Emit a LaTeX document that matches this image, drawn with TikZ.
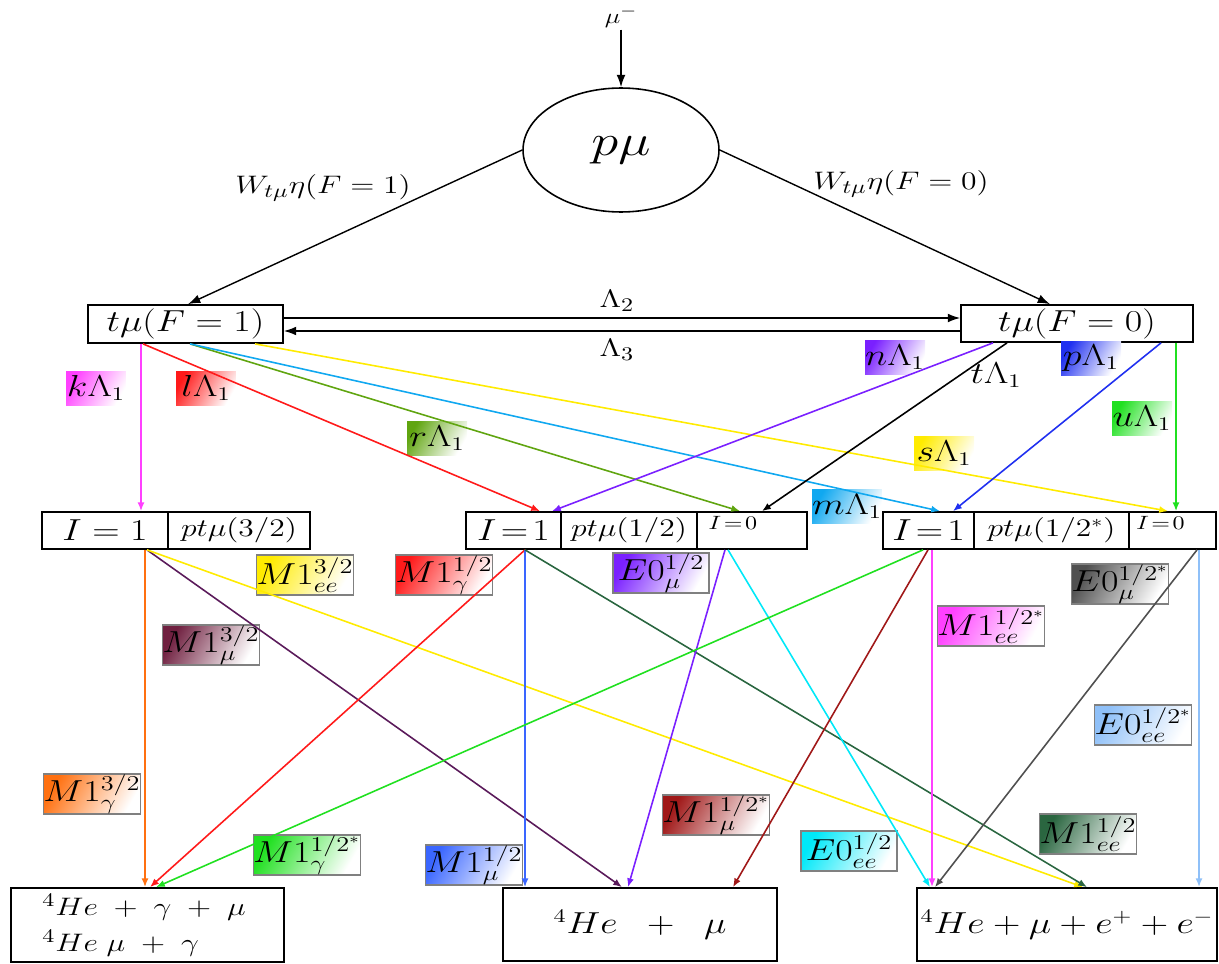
\documentclass[tikz,border=0pt]{standalone}
\usepackage{graphicx}
\usetikzlibrary{arrows.meta,shapes.geometric,calc}
\definecolor{magC}{RGB}{255,64,255}
\definecolor{redC}{RGB}{255,26,26}
\definecolor{oliveC}{RGB}{96,165,16}
\definecolor{skyC}{RGB}{16,168,240}
\definecolor{yelC}{RGB}{255,235,0}
\definecolor{violC}{RGB}{122,32,255}
\definecolor{blueC}{RGB}{32,48,240}
\definecolor{greenC}{RGB}{32,224,32}
\definecolor{orangeC}{RGB}{255,112,16}
\definecolor{plumC}{RGB}{90,26,90}
\definecolor{maroonC}{RGB}{112,32,64}
\definecolor{dgreenC}{RGB}{42,102,64}
\definecolor{dredC}{RGB}{160,24,24}
\definecolor{cyanC}{RGB}{0,232,248}
\definecolor{grayC}{RGB}{80,80,80}
\definecolor{lblueC}{RGB}{143,192,248}
\definecolor{mblueC}{RGB}{58,102,255}
\newcommand{\wt}[1]{\scalebox{1.25}[1]{#1}}
\newcommand{\fs}[1]{\fontsize{#1}{#1}\selectfont}
\begin{document}
\begin{tikzpicture}[x=0.02cm,y=-0.02cm,
  box/.style={draw,line width=1pt,inner sep=0pt},
  arr/.style={line width=0.9pt,-{Latex[length=5pt,width=4pt]}},
  barr/.style={line width=0.8pt,-{Latex[length=7pt,width=5pt]}},
  lam/.style={inner sep=0pt,minimum width=1.2cm,minimum height=0.68cm,top color=#1,bottom color=white,shading angle=60,font=\fs{16}},
  mlab/.style={draw=gray,line width=0.7pt,top color=#1,bottom color=white,shading angle=60,
    minimum width=1.92cm,minimum height=0.8cm,inner sep=0pt,font=\fs{16.5}}]
\useasboundingbox (0,0) rectangle (1219,963);

% top
\node[font=\fs{13},inner sep=1pt] (mu) at (621,17) {\wt{$\mu^-$}};
\node[ellipse,draw,line width=0.9pt,minimum width=3.92cm,minimum height=2.48cm,inner sep=0pt] (pmu) at (621,150) {\fs{27}\wt{$p\mu$}};
\draw[barr] (mu) -- (pmu);

\node[box,minimum width=3.9cm,minimum height=0.76cm,font=\fs{16}] (t1) at (185.5,324) {\wt{$t\mu(F=1)$}};
\node[box,minimum width=4.64cm,minimum height=0.74cm,font=\fs{16}] (t0) at (1077,323.5) {\wt{$t\mu(F=0)$}};

\node[font=\fs{15.5}] (w1) at (323,188) {\wt{$W_{t\mu}\eta(F=1)$}};
\node[font=\fs{15.5}] (w0) at (901,184) {\wt{$W_{t\mu}\eta(F=0)$}};
\draw[barr] (pmu.west) -- (t1.north -| 188,0);
\draw[barr] (pmu.east) -- (t0.north -| 1050,0);

\draw[barr] (t1.east |- 0,318) -- (t0.west |- 0,318);
\draw[barr] (t0.west |- 0,331) -- (t1.east |- 0,331);
\node[font=\fs{15}] (l2) at (617,301) {\wt{$\Lambda_2$}};
\node[font=\fs{15}] (l3) at (617,350) {\wt{$\Lambda_3$}};

% middle boxes
\node[box,minimum width=2.52cm,minimum height=0.74cm,font=\fs{18}] (LI1) at (105,530.5) {\wt{$I=1$}};
\node[box,minimum width=2.84cm,minimum height=0.74cm,font=\fs{14.5}] (Lp) at (239,530.5) {\wt{$pt\mu(3/2)$}};
\node[box,minimum width=1.9cm,minimum height=0.74cm,font=\fs{18}] (MI1) at (513.5,530.5) {\wt{$I\!=\!1$}};
\node[box,minimum width=2.72cm,minimum height=0.74cm,font=\fs{14}] (Mp) at (629,530.5) {\wt{$pt\mu(1/2)$}};
\node[box,minimum width=2.2cm,minimum height=0.74cm] (MI0) at (752,530.5) {};
\node[anchor=north,font=\fs{10.5},inner sep=1pt] (MI0t) at ($(MI0.north)+(-19,3)$) {\wt{$I\!=\!0$}};
\node[box,minimum width=1.82cm,minimum height=0.74cm,font=\fs{18}] (RI1) at (928.5,530.5) {\wt{$I\!=\!1$}};
\node[box,minimum width=3.1cm,minimum height=0.74cm,font=\fs{14}] (Rp) at (1051.5,530.5) {\wt{$pt\mu(1/2^*)$}};
\node[box,minimum width=1.74cm,minimum height=0.74cm] (RI0) at (1172.5,530.5) {};
\node[anchor=north,font=\fs{10.5},inner sep=1pt] (RI0t) at ($(RI0.north)+(-12,3)$) {\wt{$I\!=\!0$}};

% bottom boxes
\node[box,minimum width=5.46cm,minimum height=1.48cm] (BL) at (147.5,925) {};
\node[anchor=west,font=\fs{15.5},align=left,inner sep=0pt] (BLt) at (42,925) {\wt{$^4He\;+\;\gamma\;+\;\mu$}\\[5pt]\wt{$^4He\;\mu\;+\;\gamma$}};
\node[box,minimum width=5.48cm,minimum height=1.46cm,font=\fs{16}] (BM) at (640,924.5) {\wt{$^4He\;\;+\;\;\mu$}};
\node[box,minimum width=6.0cm,minimum height=1.46cm,font=\fs{16}] (BR) at (1067,924.5) {\wt{$^4He+\mu+e^+ +e^-$}};

% Lambda labels
\node[lam=magC] (kl) at (96,388) {\wt{$k\Lambda_1$}};
\node[lam=redC] (ll) at (206,388) {\wt{$l\Lambda_1$}};
\node[lam=oliveC] (rl) at (437,438) {\wt{$r\Lambda_1$}};
\node[lam=skyC] (ml) at (847,506) {\wt{$m\Lambda_1$}};
\node[lam=yelC] (sl) at (944,453) {\wt{$s\Lambda_1$}};
\node[lam=violC] (nl) at (895,357) {\wt{$n\Lambda_1$}};
\node[font=\fs{16}] (tl) at (996,375) {\wt{$t\Lambda_1$}};
\node[lam=blueC] (pl) at (1091,358) {\wt{$p\Lambda_1$}};
\node[lam=greenC] (ul) at (1142,418) {\wt{$u\Lambda_1$}};

% transition labels
\node[mlab=yelC] (a1) at (305,575) {\wt{$M1^{3/2}_{ee}$}};
\node[mlab=maroonC] (a2) at (211,645) {\wt{$M1^{3/2}_{\mu}$}};
\node[mlab=redC] (a3) at (444,575) {\wt{$M1^{1/2}_{\gamma}$}};
\node[mlab=violC] (a4) at (661,573) {\wt{$E0^{1/2}_{\mu}$}};
\node[mlab=grayC] (a5) at (1120,584) {\wt{$E0^{1/2^*}_{\mu}$}};
\node[mlab=magC] (a6) at (991,626) {\wt{$M1^{1/2^*}_{ee}$}};
\node[mlab=lblueC] (a7) at (1143,725) {\wt{$E0^{1/2^*}_{ee}$}};
\node[mlab=orangeC] (a8) at (92,794) {\wt{$M1^{3/2}_{\gamma}$}};
\node[mlab=greenC] (a9) at (307,855) {\wt{$M1^{1/2^*}_{\gamma}$}};
\node[mlab=mblueC] (a10) at (474,865) {\wt{$M1^{1/2}_{\mu}$}};
\node[mlab=dredC] (a11) at (716,815) {\wt{$M1^{1/2^*}_{\mu}$}};
\node[mlab=cyanC] (a12) at (849,851) {\wt{$E0^{1/2}_{ee}$}};
\node[mlab=dgreenC] (a13) at (1088,834) {\wt{$M1^{1/2}_{ee}$}};

% arrows from t mu (F=1)
\draw[arr,magC] (t1.south -| 141,0) -- (LI1.north -| 141,0);
\draw[arr,redC] (t1.south -| 143,0) -- (MI1.north -| 540,0);
\draw[arr,oliveC] (t1.south -| 190,0) -- (MI0.north -| 740,0);
\draw[arr,skyC] (t1.south -| 190,0) -- (RI1.north -| 940,0);
\draw[arr,yelC] (t1.south -| 255,0) -- (RI0.north -| 1168,0);
% arrows from t mu (F=0)
\draw[arr,violC] (t0.south -| 993,0) -- (MI1.north -| 552,0);
\draw[arr,black] (t0.south -| 1007,0) -- (MI0.north -| 762,0);
\draw[arr,blueC] (t0.south -| 1161,0) -- (RI1.north -| 953,0);
\draw[arr,greenC] (t0.south -| 1176,0) -- (RI0.north -| 1176,0);

% decays
\draw[arr,orangeC] (LI1.south -| 145,0) -- (BL.north -| 145,0);
\draw[arr,plumC] (LI1.south -| 147,0) -- (BM.north -| 622,0);
\draw[arr,yelC] (LI1.south -| 147,0) -- (BR.north -| 1083,0);
\draw[arr,redC] (MI1.south -| 525,0) -- (BL.north -| 150,0);
\draw[arr,mblueC] (MI1.south -| 525,0) -- (BM.north -| 525,0);
\draw[arr,dgreenC] (MI1.south -| 525,0) -- (BR.north -| 1087,0);
\draw[arr,violC] (MI0.south -| 725,0) -- (BM.north -| 628,0);
\draw[arr,cyanC] (MI0.south -| 728,0) -- (BR.north -| 930,0);
\draw[arr,greenC] (RI1.south -| 923,0) -- (BL.north -| 156,0);
\draw[arr,dredC] (RI1.south -| 928,0) -- (BM.north -| 733,0);
\draw[arr,magC,line width=1.6pt] (RI1.south -| 932,0) -- (BR.north -| 932,0);
\draw[arr,grayC] (RI0.south -| 1197,0) -- (BR.north -| 935,0);
\draw[arr,lblueC,line width=1.6pt] (RI0.south -| 1199,0) -- (BR.north -| 1199,0);
\end{tikzpicture}
\end{document}
